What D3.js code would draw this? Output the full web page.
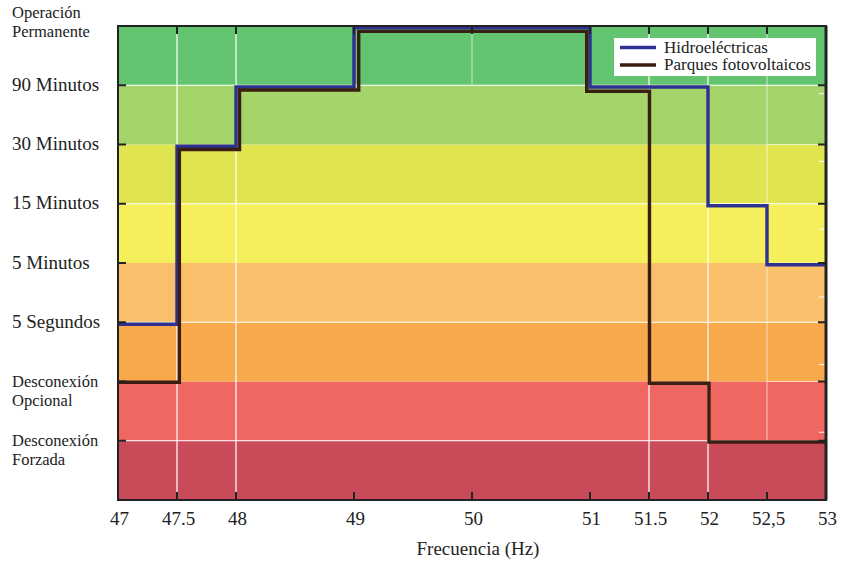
<!DOCTYPE html>
<html>
<head>
<meta charset="utf-8">
<script src="https://cdn.jsdelivr.net/npm/d3@7"></script>
<style>
  html, body { margin: 0; padding: 0; background: #fff; }
  svg { display: block; }
  text { font-family: "Liberation Serif", "Times New Roman", serif; fill: #222; }
</style>
</head>
<body>
<svg id="chart" width="841" height="561"></svg>
<script>
// ---- data ----
const xTickValues = [47, 47.5, 48, 49, 50, 51, 51.5, 52, 52.5, 53];
const xTickLabels = ["47", "47.5", "48", "49", "50", "51", "51.5", "52", "52,5", "53"];
const yLevels = [1, 2, 3, 4, 5, 6, 7, 8];
const yTickLabels = [
  "Desconexión\nForzada",
  "Desconexión\nOpcional",
  "5 Segundos",
  "5 Minutos",
  "15 Minutos",
  "30 Minutos",
  "90 Minutos",
  "Operación\nPermanente"
];
const bandColors = ["#c94b59", "#f06660", "#f7a94c", "#fabf6a", "#f5ef5c", "#dfe44f", "#a5d46a", "#62c46f"];
const gridX = [47.5, 48, 51.5, 52];
const gridXFaint = [[50, 7, 8], [52.5, 1, 8]];
const gridY = [1, 3, 5, 7];
const gridYFaint = [[2, 52.5, 53], [4, 52.5, 53], [6, 52.5, 53]];

const hydroX = [47, 47.5, 48, 49, 51, 52, 52.5, 53];
const hydroLevel = [2.965, 5.97, 6.97, 7.97, 6.97, 4.965, 3.97];
const pvX = [47, 47.52, 48.03, 49.04, 50.972, 51.504, 52.008, 53];
const pvLevel = [1.987, 5.916, 6.92, 7.91, 6.90, 1.97, 0.98];

const seriesNames = ["Hidroeléctricas", "Parques fotovoltaicos"];
const seriesColors = ["#2e3192", "#3b1e12"];
const xTitle = "Frecuencia (Hz)";

// ---- chart ----
const svg = d3.select("#chart");
const L = 118, R = 826, T = 26, B = 500;
const x = d3.scaleLinear().domain([47, 53]).range([L, R]);
const y = d3.scaleLinear().domain([0, 8]).range([B, T]);
const y2 = d3.scaleLinear().domain([0, 7]).range([B, T]);

// bands
svg.append("g").selectAll("rect").data(bandColors).join("rect")
  .attr("x", L).attr("width", R - L)
  .attr("y", (d, i) => y(i + 1)).attr("height", (d, i) => y(i) - y(i + 1))
  .attr("fill", d => d);

// grid
const grid = svg.append("g");
grid.selectAll("line.gx").data(gridX).join("line").attr("class", "gx")
  .attr("x1", d => x(d)).attr("x2", d => x(d)).attr("y1", T).attr("y2", B)
  .attr("stroke", "#fff").attr("stroke-width", 1.2);
grid.selectAll("line.gxf").data(gridXFaint).join("line").attr("class", "gxf")
  .attr("x1", d => x(d[0])).attr("x2", d => x(d[0])).attr("y1", d => y(d[2])).attr("y2", d => y(d[1]))
  .attr("stroke", "#fff").attr("stroke-opacity", 0.55).attr("stroke-width", 1.2);
grid.selectAll("line.gy").data(gridY).join("line").attr("class", "gy")
  .attr("x1", L).attr("x2", R).attr("y1", d => y(d)).attr("y2", d => y(d))
  .attr("stroke", "#fff").attr("stroke-width", 1.2);
grid.selectAll("line.gyf").data(gridYFaint).join("line").attr("class", "gyf")
  .attr("x1", d => x(d[1])).attr("x2", d => x(d[2])).attr("y1", d => y(d[0])).attr("y2", d => y(d[0]))
  .attr("stroke", "#fff").attr("stroke-opacity", 0.55).attr("stroke-width", 1.2);

// step lines
const stepLine = d3.line().x(d => x(d[0])).y(d => y(d[1])).curve(d3.curveStepAfter);
function pts(xs, lv) {
  const p = lv.map((v, i) => [xs[i], v]);
  p.push([xs[xs.length - 1], lv[lv.length - 1]]);
  return p;
}
svg.append("path").attr("d", stepLine(pts(hydroX, hydroLevel)))
  .attr("fill", "none").attr("stroke", seriesColors[0]).attr("stroke-width", 3.4).attr("stroke-linejoin", "miter");
svg.append("path").attr("d", stepLine(pts(pvX, pvLevel)))
  .attr("fill", "none").attr("stroke", seriesColors[1]).attr("stroke-width", 3.4).attr("stroke-linejoin", "miter");

// ticks
const tk = svg.append("g").attr("stroke", "#222").attr("stroke-width", 2);
xTickValues.forEach(v => {
  tk.append("line").attr("x1", x(v)).attr("x2", x(v)).attr("y1", B).attr("y2", B - 8);
  tk.append("line").attr("x1", x(v)).attr("x2", x(v)).attr("y1", T).attr("y2", T + 8);
});
yLevels.forEach(v => {
  tk.append("line").attr("x1", L).attr("x2", L + 8).attr("y1", y(v)).attr("y2", y(v));
  tk.append("line").attr("x1", R).attr("x2", R - 8).attr("y1", y(v)).attr("y2", y(v));
});
d3.range(1, 7).forEach(v => {
  svg.append("line").attr("x1", R).attr("x2", R - 7).attr("y1", y2(v)).attr("y2", y2(v))
    .attr("stroke", "#fff").attr("stroke-width", 1.2).attr("stroke-opacity", 0.8);
});

// frame
svg.append("rect").attr("x", L).attr("y", T).attr("width", R - L).attr("height", B - T)
  .attr("fill", "none").attr("stroke", "#222").attr("stroke-width", 2);
svg.append("line").attr("x1", R).attr("x2", R).attr("y1", T).attr("y2", B)
  .attr("stroke", "#222").attr("stroke-width", 3);

// x tick labels
svg.append("g").selectAll("text").data(xTickValues).join("text")
  .attr("x", d => x(d) + 1.5).attr("y", 525)
  .attr("text-anchor", "middle").attr("font-size", 19)
  .text((d, i) => xTickLabels[i]);

// x title
svg.append("text").attr("x", 478).attr("y", 555).attr("text-anchor", "middle")
  .attr("font-size", 19).text(xTitle);

// y tick labels
const yl = svg.append("g");
yTickLabels.forEach((lab, i) => {
  const lines = lab.split("\n");
  const lv = yLevels[i];
  const two = lines.length > 1;
  const fs = two ? 16.5 : 19;
  const gap = 18.5;
  const top = lv === 8;
  const base = top ? y(lv) - 8 : y(lv) + 5.5;
  const t = yl.append("text").attr("x", 12).attr("font-size", fs);
  lines.forEach((ln, j) => {
    t.append("tspan").attr("x", 12).attr("y", base + j * gap).text(ln);
  });
});

// legend
const lg = svg.append("g");
lg.append("rect").attr("x", 614).attr("y", 38).attr("width", 202).attr("height", 38).attr("fill", "#fff");
seriesNames.forEach((n, i) => {
  const yy = 47.5 + i * 17.5;
  lg.append("line").attr("x1", 620).attr("x2", 656).attr("y1", yy).attr("y2", yy)
    .attr("stroke", seriesColors[i]).attr("stroke-width", 3.6);
  lg.append("text").attr("x", 664).attr("y", yy + 5).attr("font-size", 17).text(n);
});
</script>
</body>
</html>
